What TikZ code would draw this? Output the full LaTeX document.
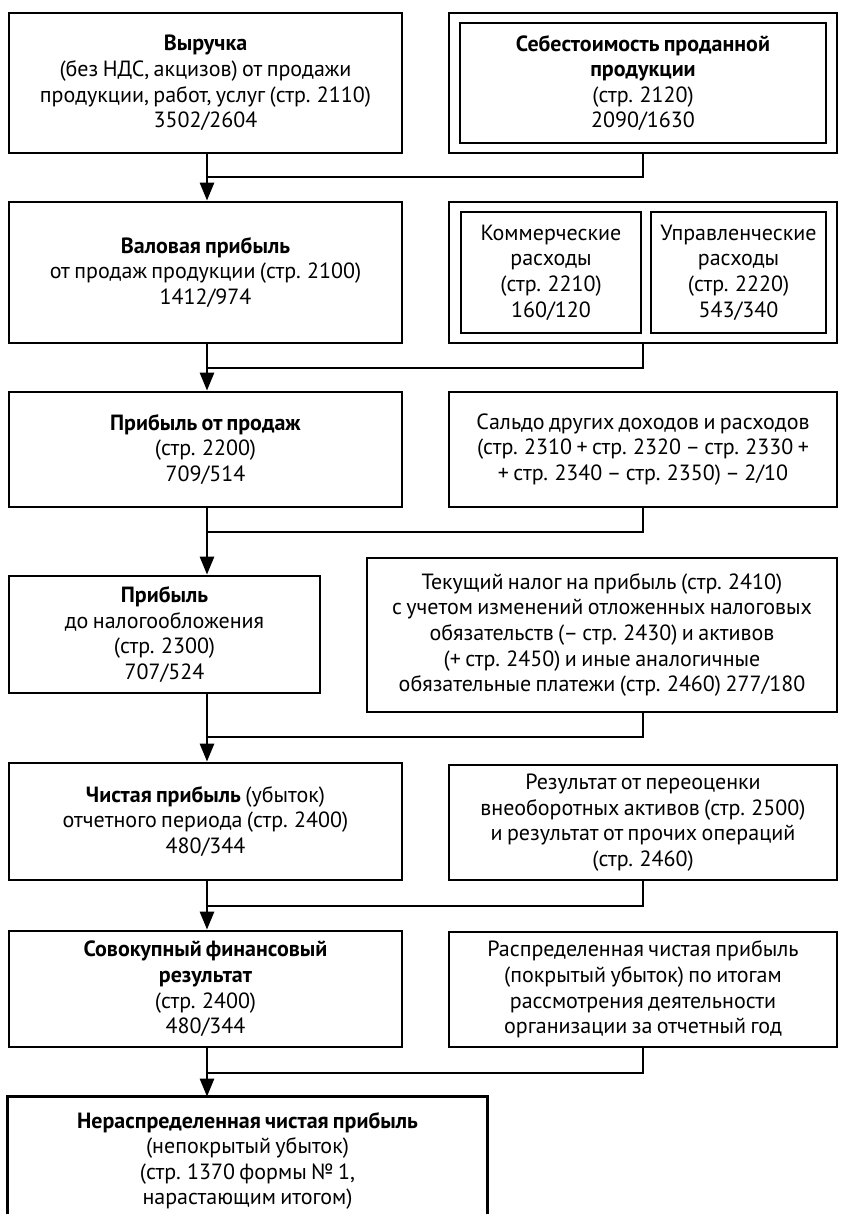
\documentclass[tikz,border=0pt]{standalone}
\usepackage{fontspec}
\setmainfont{PT Sans}[WordSpace=0.75]
\usetikzlibrary{arrows.meta}
\begin{document}
\begin{tikzpicture}[x=1pt,y=-1pt,
  box/.style={draw,line width=2.8pt,align=center,inner sep=0pt,
    font=\fontsize{22}{25.6}\selectfont},
  link/.style={line width=2.8pt},
  arr/.style={line width=2.8pt,-{Triangle[length=18pt,width=14pt]}}]
\useasboundingbox (0,0) rectangle (842,1214);
% row 1
\node[box,minimum width=393pt,minimum height=140pt] (b1) at (205.5,83)
  {\textbf{Выручка}\\(без НДС, акцизов) от продажи\\продукции, работ, услуг (стр. 2110)\\3502/2604};
\node[box,minimum width=388pt,minimum height=140pt] (seb) at (643,83) {};
\node[box,minimum width=366pt,minimum height=120pt] (sebi) at (643,83)
  {\textbf{Себестоимость проданной}\\\textbf{продукции}\\(стр. 2120)\\2090/1630};
% row 2
\node[box,minimum width=393pt,minimum height=141pt] (b2) at (205.5,272.5)
  {\textbf{Валовая прибыль}\\от продаж продукции (стр. 2100)\\1412/974};
\node[box,minimum width=388pt,minimum height=141pt] (r2) at (643,272.5) {};
\node[box,minimum width=180pt,minimum height=121pt] (k2) at (551,272.5)
  {Коммерческие\\расходы\\(стр. 2210)\\160/120};
\node[box,minimum width=175pt,minimum height=121pt] (u2) at (738.5,272.5)
  {Управленческие\\расходы\\(стр. 2220)\\543/340};
% row 3
\node[box,minimum width=393pt,minimum height=115pt] (b3) at (205.5,449.5)
  {\textbf{Прибыль от продаж}\\(стр. 2200)\\709/514};
\node[box,minimum width=388pt,minimum height=115pt] (s3) at (643,449.5)
  {Сальдо других доходов и расходов\\(стр. 2310 + стр. 2320 – стр. 2330 +\\+ стр. 2340 – стр. 2350) – 2/10};
% row 4
\node[box,minimum width=311pt,minimum height=117pt] (b4) at (164.5,634.5)
  {\textbf{Прибыль}\\до налогообложения\\(стр. 2300)\\707/524};
\node[box,minimum width=470pt,minimum height=154pt] (t4) at (602,635)
  {Текущий налог на прибыль (стр. 2410)\\с учетом изменений отложенных налоговых\\обязательств (– стр. 2430) и активов\\(+ стр. 2450) и иные аналогичные\\обязательные платежи (стр. 2460) 277/180};
% row 5
\node[box,minimum width=393pt,minimum height=117pt] (b5) at (205.5,821.5)
  {\textbf{Чистая прибыль} (убыток)\\отчетного периода (стр. 2400)\\480/344};
\node[box,minimum width=388pt,minimum height=115pt] (r5) at (643,822.5)
  {Результат от переоценки\\внеоборотных активов (стр. 2500)\\и результат от прочих операций\\(стр. 2460)};
% row 6
\node[box,minimum width=393pt,minimum height=116pt] (b6) at (205.5,989)
  {\textbf{Совокупный финансовый}\\\textbf{результат}\\(стр. 2400)\\480/344};
\node[box,minimum width=388pt,minimum height=115pt] (r6) at (643,989.5)
  {Распределенная чистая прибыль\\(покрытый убыток) по итогам\\рассмотрения деятельности\\организации за отчетный год};
% row 7 (box runs past the lower edge)
\node[box,draw=none,minimum width=477pt,minimum height=126pt] (b7) at (247.5,1161)
  {\textbf{Нераспределенная чистая прибыль}\\(непокрытый убыток)\\(стр. 1370 формы № 1,\\нарастающим итогом)};
\draw[link] ([yshift=-40pt]b7.south west) |- (b7.north east) -- ([yshift=-40pt]b7.south east);
% junctions
\coordinate (ax) at (207,0);
\coordinate (j1) at (207,177);
\coordinate (j2) at (207,368);
\coordinate (j3) at (207,532);
\coordinate (j4) at (207,737);
\coordinate (j5) at (207,906);
\coordinate (j6) at (207,1073);
% connectors
\draw[arr] (b1.south -| ax) -- (b2.north -| ax);
\draw[link] (seb.south) |- (j1);
\draw[arr] (b2.south -| ax) -- (b3.north -| ax);
\draw[link] (r2.south) |- (j2);
\draw[arr] (b3.south -| ax) -- (b4.north -| ax);
\draw[link] (s3.south) |- (j3);
\draw[arr] (b4.south -| ax) -- (b5.north -| ax);
\draw[link] (t4.south -| s3.south) |- (j4);
\draw[arr] (b5.south -| ax) -- (b6.north -| ax);
\draw[link] (r5.south) |- (j5);
\draw[arr] (b6.south -| ax) -- (b7.north -| ax);
\draw[link] (r6.south) |- (j6);
\end{tikzpicture}
\end{document}
